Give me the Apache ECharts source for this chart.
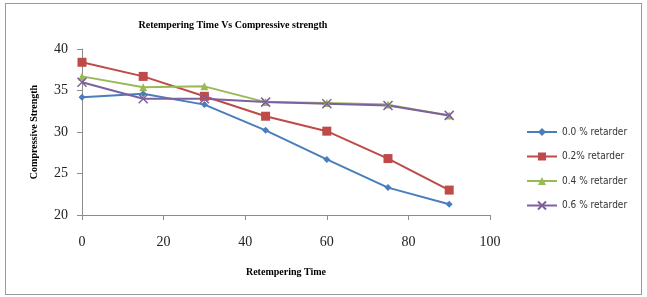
<!DOCTYPE html>
<html>
<head>
<meta charset="utf-8">
<script src="https://cdn.jsdelivr.net/npm/echarts@6/dist/echarts.min.js"></script>
<style>
  html, body { margin: 0; padding: 0; background: #fff; }
  #chart { width: 647px; height: 297px; }
  .frame { position: absolute; left: 5px; top: 3px; width: 635px; height: 290px; border: 1px solid #9a9a9a; pointer-events: none; }
</style>
</head>
<body>
<div id="chart"></div>
<div class="frame"></div>
<script>
// 数据：重新调和时间 vs 抗压强度
const times = [0, 15, 30, 45, 60, 75, 90]
const seriesNames = ['0.0 % retarder', '0.2% retarder', '0.4 % retarder', '0.6 % retarder']
const retarder00 = [34.2, 34.6, 33.3, 30.2, 26.7, 23.3, 21.3]
const retarder02 = [38.4, 36.7, 34.3, 31.9, 30.1, 26.8, 23.0]
const retarder04 = [36.7, 35.4, 35.5, 33.6, 33.5, 33.3, 32.0]
const retarder06 = [36.0, 34.0, 34.0, 33.6, 33.4, 33.2, 32.0]
const xTicks = [0, 20, 40, 60, 80, 100]
const yTicks = [20, 25, 30, 35, 40]

const crossPath = 'path://M0,0L10,10M10,0L0,10'
const colors = ['#4a7ebb', '#be4b48', '#98b954', '#7d60a0']
const symbols = ['diamond', 'rect', 'triangle', crossPath]
const sizes = [7, 9, 8, 9]

const pairs = arr => times.map((t, i) => [t, arr[i]])
const allData = [retarder00, retarder02, retarder04, retarder06]

const chart = echarts.init(document.getElementById('chart'))

const option = {
  animation: false,
  title: {
    text: 'Retempering Time Vs Compressive strength',
    left: 228,
    top: 15,
    textAlign: 'center',
    textStyle: { fontFamily: 'Liberation Serif', fontSize: 10, fontWeight: 'bold', color: '#000' }
  },
  legend: {
    orient: 'vertical',
    left: 521,
    top: 122,
    itemWidth: 30,
    itemHeight: 10,
    itemGap: 14.5,
    data: seriesNames,
    textStyle: { fontFamily: 'DejaVu Sans Condensed', fontSize: 10, color: '#333' }
  },
  grid: {
    left: 82,
    right: 157,
    top: 49,
    bottom: 82
  },
  xAxis: {
    type: 'value',
    min: xTicks[0],
    max: xTicks[xTicks.length - 1],
    interval: 20,
    name: 'Retempering Time',
    nameLocation: 'middle',
    nameGap: 52,
    nameTextStyle: { fontFamily: 'Liberation Serif', fontSize: 10, fontWeight: 'bold', color: '#000' },
    axisLine: { lineStyle: { color: '#8c8c8c' } },
    axisTick: { show: true, length: 5, lineStyle: { color: '#8c8c8c' } },
    axisLabel: { fontFamily: 'Liberation Serif', fontSize: 14, color: '#222', margin: 20 },
    splitLine: { show: false }
  },
  yAxis: {
    type: 'value',
    min: yTicks[0],
    max: yTicks[yTicks.length - 1],
    interval: 5,
    name: 'Compressive Strength',
    nameLocation: 'middle',
    nameGap: 43,
    nameTextStyle: { fontFamily: 'Liberation Serif', fontSize: 10, fontWeight: 'bold', color: '#000' },
    axisLine: { show: true, lineStyle: { color: '#8c8c8c' } },
    axisTick: { show: true, length: 5, lineStyle: { color: '#8c8c8c' } },
    axisLabel: { fontFamily: 'Liberation Serif', fontSize: 14, color: '#222', margin: 14 },
    splitLine: { show: false }
  },
  series: seriesNames.map((name, i) => ({
    name: name,
    type: 'line',
    data: pairs(allData[i]),
    symbol: symbols[i],
    symbolSize: sizes[i],
    showAllSymbol: true,
    itemStyle: i === 3
      ? { color: 'transparent', borderColor: colors[i], borderWidth: 1.5 }
      : { color: colors[i] },
    lineStyle: { color: colors[i], width: 2 }
  }))
}

chart.setOption(option)
</script>
</body>
</html>
